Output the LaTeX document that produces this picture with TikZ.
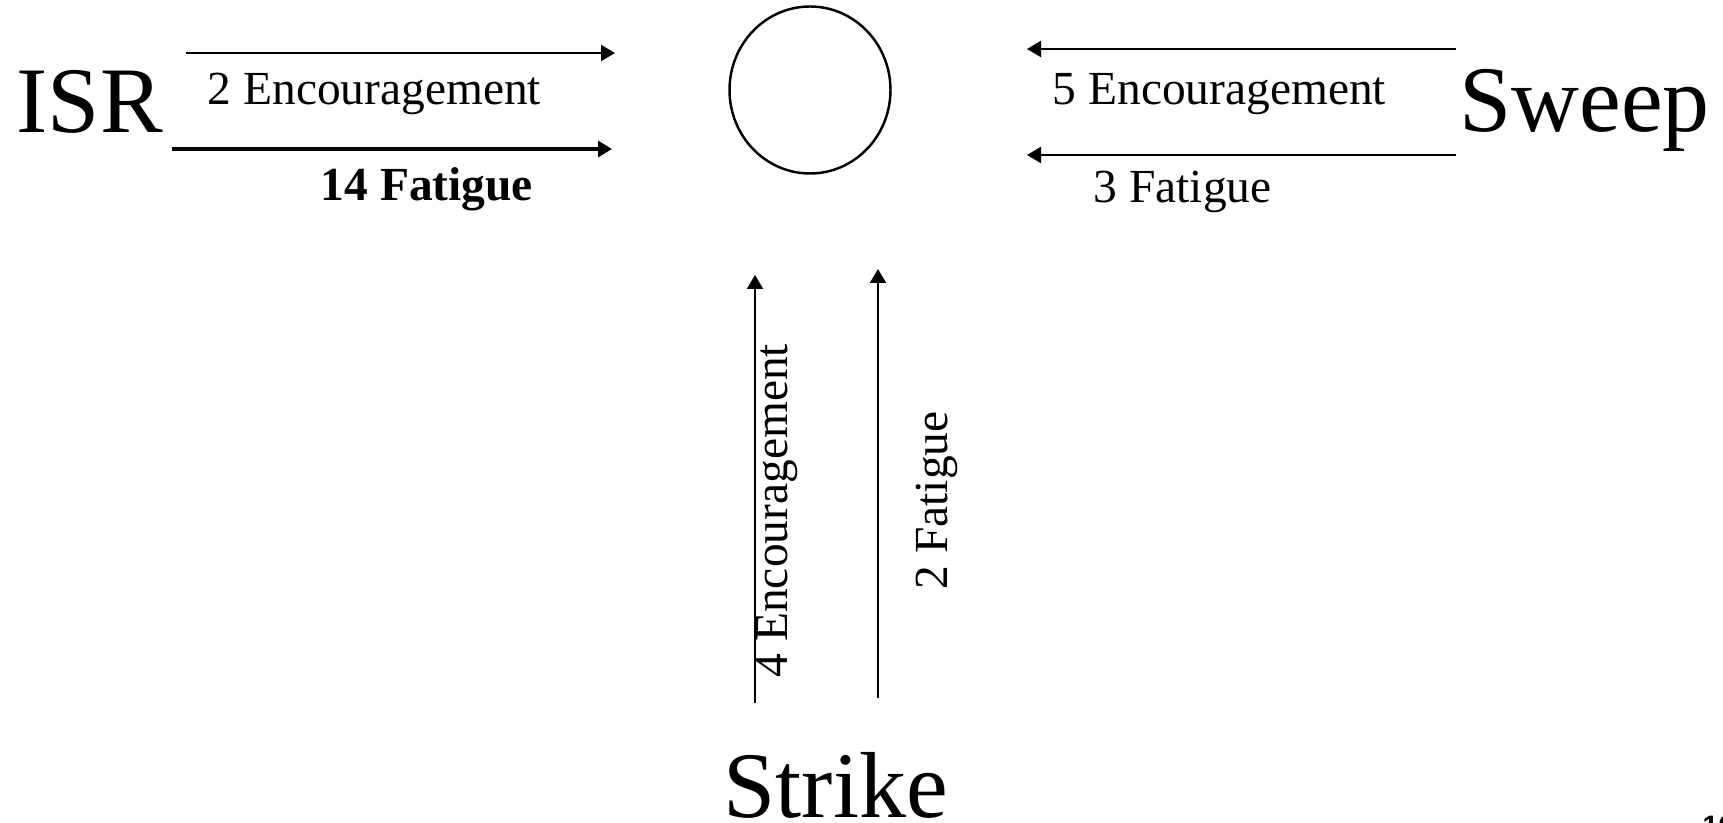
\documentclass[tikz,border=0pt]{standalone}
\usepackage{fontspec}
\setmainfont{Liberation Serif}
\setsansfont{Liberation Sans}
\usetikzlibrary{arrows.meta,shapes.geometric}

\begin{document}
\begin{tikzpicture}[
	big/.style={font=\fontsize{26.7}{32}\selectfont, inner sep=0pt, anchor=base west},
	small/.style={font=\fontsize{13.5}{16}\selectfont, inner sep=0pt, anchor=base west},
	smallbold/.style={small, font=\fontsize{13.5}{16}\selectfont\bfseries},
	flow/.style={-{Triangle[length=1.4mm, width=1.6mm]}, line width=0.6pt},
	]
	\useasboundingbox (0, 0) rectangle (17.23, -8.23);
	% Paths, nodes and wires:
	\node[draw, ellipse, line width=0.7pt, minimum width=1.61cm, minimum height=1.67cm, inner sep=0pt] (hub) at (8.10, -0.90) {};
	\node[big] (isr) at (0.16, -1.33) {ISR};
	\node[big] (sweep) at (14.59, -1.32) {Sweep};
	\node[big] (strike) at (7.23, -8.17) {Strike};
	\coordinate (isrE0) at (1.86, -0.53);
	\coordinate (isrE1) at (6.15, -0.53);
	\coordinate (isrF0) at (1.72, -1.49);
	\coordinate (isrF1) at (6.12, -1.49);
	\coordinate (swE0) at (14.56, -0.49);
	\coordinate (swE1) at (10.27, -0.49);
	\coordinate (swF0) at (14.56, -1.55);
	\coordinate (swF1) at (10.27, -1.55);
	\coordinate (stE0) at (7.55, -7.03);
	\coordinate (stE1) at (7.55, -2.75);
	\coordinate (stF0) at (8.78, -6.98);
	\coordinate (stF1) at (8.78, -2.69);
	\draw[flow] (isrE0) -- (isrE1);
	\draw[flow, line width=0.9pt] (isrF0) -- (isrF1);
	\draw[flow] (swE0) -- (swE1);
	\draw[flow] (swF0) -- (swF1);
	\draw[flow] (stE0) -- (stE1);
	\draw[flow] (stF0) -- (stF1);
	\node[small] (isrElab) at (2.07, -1.05) {2 Encouragement};
	\node[smallbold] (isrFlab) at (3.20, -2.00) {14 Fatigue};
	\node[small] (swElab) at (10.52, -1.05) {5 Encouragement};
	\node[small] (swFlab) at (10.93, -2.02) {3 Fatigue};
	\node[small, rotate=90] (stElab) at (7.87, -6.78) {4 Encouragement};
	\node[small, rotate=90] (stFlab) at (9.47, -5.90) {2 Fatigue};
	\node[anchor=north west, inner sep=0pt, font=\sffamily\bfseries\fontsize{8}{9}\selectfont] (pageno) at (17.02, -8.15) {16};
\end{tikzpicture}
\end{document}
